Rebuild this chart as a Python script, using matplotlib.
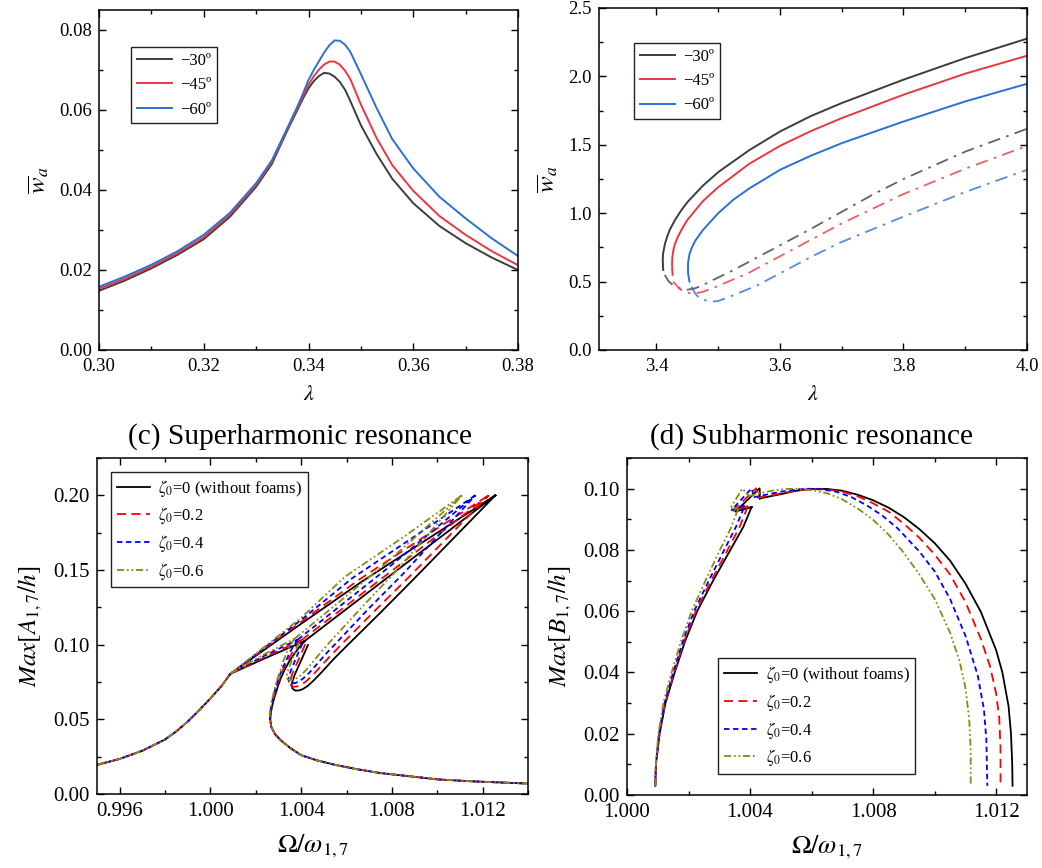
import numpy as np
import matplotlib.pyplot as plt
from matplotlib.ticker import MultipleLocator, FormatStrFormatter

plt.rcParams['font.family'] = 'Liberation Serif'
plt.rcParams['mathtext.fontset'] = 'stix'

nan = np.nan

# ---------------- (a) primary resonance ----------------
a_lam = [0.300, 0.305, 0.310, 0.315, 0.320, 0.325, 0.330, 0.333, 0.336, 0.338, 0.339,
         0.340, 0.341, 0.342, 0.343, 0.344, 0.345, 0.346, 0.347, 0.348, 0.350, 0.353,
         0.356, 0.360, 0.365, 0.370, 0.375, 0.380]
a_w30 = [0.0148, 0.0174, 0.0204, 0.0238, 0.0277, 0.0333, 0.0408, 0.0465, 0.0550, 0.0603, 0.0630,
         0.0654, 0.0672, 0.0685, 0.0693, 0.0691, 0.0683, 0.0670, 0.0650, 0.0622, 0.0562, 0.0490,
         0.0428, 0.0367, 0.0310, 0.0267, 0.0231, 0.0200]
a_w45 = [0.0153, 0.0179, 0.0208, 0.0242, 0.0282, 0.0338, 0.0413, 0.0470, 0.0553, 0.0607, 0.0636,
         0.0663, 0.0684, 0.0701, 0.0714, 0.0721, 0.0721, 0.0713, 0.0698, 0.0677, 0.0614, 0.0530,
         0.0462, 0.0398, 0.0335, 0.0288, 0.0247, 0.0212]
a_w60 = [0.0158, 0.0184, 0.0213, 0.0247, 0.0288, 0.0343, 0.0417, 0.0474, 0.0556, 0.0612, 0.0643,
         0.0675, 0.0700, 0.0722, 0.0744, 0.0762, 0.0774, 0.0773, 0.0763, 0.0745, 0.0690, 0.0605,
         0.0527, 0.0454, 0.0383, 0.0329, 0.0279, 0.0235]

# ---------------- (b) stable (solid) and unstable (dash-dot) branches ----------------
b30_sx = [3.4110, 3.4105, 3.4103, 3.4106, 3.4118, 3.4140, 3.4175, 3.4215, 3.430, 3.440, 3.450,
          3.475, 3.500, 3.550, 3.600, 3.650, 3.700, 3.800, 3.900, 4.000]
b30_sy = [0.585, 0.620, 0.660, 0.700, 0.730, 0.780, 0.830, 0.878, 0.950, 1.020, 1.080,
          1.200, 1.300, 1.460, 1.597, 1.710, 1.805, 1.976, 2.134, 2.276]
b45_sx = [3.4262, 3.4256, 3.4254, 3.4258, 3.4275, 3.4297, 3.4340, 3.4405, 3.450, 3.475, 3.500,
          3.550, 3.600, 3.650, 3.700, 3.800, 3.900, 4.000]
b45_sy = [0.550, 0.590, 0.630, 0.680, 0.730, 0.770, 0.820, 0.878, 0.950, 1.087, 1.190,
          1.360, 1.492, 1.600, 1.695, 1.866, 2.020, 2.151]
b60_sx = [3.4535, 3.4515, 3.4510, 3.4515, 3.4535, 3.4570, 3.4630, 3.4755, 3.500, 3.525, 3.550,
          3.600, 3.650, 3.700, 3.800, 3.900, 4.000]
b60_sy = [0.500, 0.550, 0.600, 0.650, 0.700, 0.745, 0.800, 0.878, 1.000, 1.100, 1.180,
          1.317, 1.420, 1.512, 1.670, 1.817, 1.946]

b30_ux = [3.4135, 3.420, 3.427, 3.437, 3.449, 3.462, 3.4755, 3.500, 3.525, 3.550, 3.600,
          3.650, 3.700, 3.750, 3.800, 3.900, 4.000]
b30_uy = [0.549, 0.500, 0.475, 0.452, 0.440, 0.450, 0.475, 0.530, 0.585, 0.645, 0.765,
          0.885, 1.010, 1.135, 1.250, 1.450, 1.617]
b45_ux = [3.427, 3.435, 3.443, 3.459, 3.475, 3.497, 3.550, 3.600, 3.650, 3.700, 3.800, 3.900, 4.000]
b45_uy = [0.500, 0.460, 0.427, 0.410, 0.425, 0.463, 0.565, 0.685, 0.805, 0.925, 1.140, 1.325, 1.492]
b60_ux = [3.457, 3.463, 3.470, 3.486, 3.500, 3.519, 3.562, 3.600, 3.650, 3.700, 3.800, 3.900, 4.000]
b60_uy = [0.463, 0.410, 0.378, 0.353, 0.358, 0.390, 0.470, 0.560, 0.680, 0.790, 0.975, 1.155, 1.317]

# ---------------- (c) superharmonic resonance ----------------
c_rise_x = [0.995, 0.996, 0.997, 0.998, 0.9985, 0.999, 0.9995, 1.0000, 1.0005, 1.00088]
c_rise_y = [0.0195, 0.0235, 0.0290, 0.0365, 0.0420, 0.0485, 0.0560, 0.0640, 0.0725, 0.0805]
c_tail_x = [1.00268, 1.00285, 1.0031, 1.0035, 1.0040, 1.0047, 1.0055, 1.0065, 1.0075, 1.0090,
            1.0100, 1.0115, 1.0140]
c_tail_y = [0.045, 0.040, 0.036, 0.031, 0.026, 0.0225, 0.0195, 0.0165, 0.0140, 0.0115,
            0.0098, 0.0085, 0.0070]

# branches separated by nan: upper line, kink->junction, fold, middle line, loop
c0_x = [1.00088, 1.0040, 1.0067, 1.0096, 1.01256, nan,
        1.00088, 1.00250, 1.00416, nan,
        1.00416, 1.00390, 1.00372, 1.00348, 1.00327, 1.00310, 1.00297, 1.00285, 1.00275, 1.00267, 1.00264, 1.00268, nan,
        1.00416, 1.0085, 1.01256, nan,
        1.00430, 1.00401, 1.00371, 1.00357, 1.00362, 1.00375, 1.00392, 1.00408, 1.00430, 1.00455, 1.00490, 1.00541,
        1.0060, 1.0075, 1.0090, 1.01256]
c0_y = [0.0805, 0.114, 0.1425, 0.171, 0.200, nan,
        0.0805, 0.0915, 0.1025, nan,
        0.1025, 0.098, 0.0943, 0.089, 0.0831, 0.0775, 0.0719, 0.066, 0.0608, 0.055, 0.050, 0.045, nan,
        0.1025, 0.153, 0.200, nan,
        0.0998, 0.0898, 0.0797, 0.0730, 0.0705, 0.0692, 0.0694, 0.0703, 0.0725, 0.0760, 0.0815, 0.0900,
        0.0990, 0.1215, 0.1445, 0.200]

c2_x = [1.00088, 1.0040, 1.00655, 1.0094, 1.01227, nan,
        1.00088, 1.00245, 1.00401, nan,
        1.00401, 1.00378, 1.00360, 1.00340, 1.00320, 1.00305, 1.00292, 1.00281, 1.00272, 1.00265, 1.00263, 1.00268, nan,
        1.00401, 1.0083, 1.01227, nan,
        1.00418, 1.00390, 1.00362, 1.00350, 1.00355, 1.00366, 1.00382, 1.00398, 1.00420, 1.00445, 1.00478, 1.00527,
        1.0058, 1.0073, 1.0088, 1.01227]
c2_y = [0.0805, 0.1153, 0.1435, 0.172, 0.200, nan,
        0.0805, 0.0920, 0.1030, nan,
        0.1030, 0.0985, 0.0945, 0.089, 0.0831, 0.0775, 0.0719, 0.066, 0.0608, 0.055, 0.050, 0.045, nan,
        0.1030, 0.153, 0.200, nan,
        0.1003, 0.0905, 0.0810, 0.0750, 0.0728, 0.0718, 0.0720, 0.0730, 0.0752, 0.0787, 0.0840, 0.0922,
        0.1005, 0.1235, 0.1460, 0.200]

c4_x = [1.00088, 1.0040, 1.00625, 1.0090, 1.01168, nan,
        1.00088, 1.00237, 1.00386, nan,
        1.00386, 1.00366, 1.00350, 1.00333, 1.00315, 1.00300, 1.00289, 1.00279, 1.00270, 1.00264, 1.00262, 1.00268, nan,
        1.00386, 1.0080, 1.01168, nan,
        1.00405, 1.00378, 1.00354, 1.00343, 1.00347, 1.00358, 1.00374, 1.00390, 1.00410, 1.00435, 1.00465, 1.00510,
        1.0056, 1.0070, 1.0085, 1.01168]
c4_y = [0.0805, 0.1166, 0.1445, 0.1725, 0.200, nan,
        0.0805, 0.0925, 0.1035, nan,
        0.1035, 0.0990, 0.0950, 0.089, 0.0831, 0.0775, 0.0719, 0.066, 0.0608, 0.055, 0.050, 0.045, nan,
        0.1035, 0.1535, 0.200, nan,
        0.1008, 0.0912, 0.0825, 0.0770, 0.0750, 0.0741, 0.0743, 0.0753, 0.0775, 0.0810, 0.0862, 0.0940,
        0.1020, 0.1245, 0.1475, 0.200]

c6_x = [1.00088, 1.0040, 1.00593, 1.0086, 1.01109, nan,
        1.00088, 1.00230, 1.00371, nan,
        1.00371, 1.00352, 1.00338, 1.00324, 1.00309, 1.00296, 1.00285, 1.00276, 1.00268, 1.00262, 1.00261, 1.00268, nan,
        1.00371, 1.0077, 1.01109, nan,
        1.00390, 1.00365, 1.00345, 1.00335, 1.00338, 1.00348, 1.00364, 1.00380, 1.00400, 1.00423, 1.00452, 1.00493,
        1.0054, 1.0067, 1.0082, 1.01109]
c6_y = [0.0805, 0.1180, 0.1455, 0.173, 0.200, nan,
        0.0805, 0.0930, 0.1040, nan,
        0.1040, 0.0995, 0.0955, 0.090, 0.0831, 0.0775, 0.0719, 0.066, 0.0608, 0.055, 0.050, 0.045, nan,
        0.1040, 0.154, 0.200, nan,
        0.1015, 0.0920, 0.0840, 0.0790, 0.0772, 0.0763, 0.0765, 0.0775, 0.0797, 0.0832, 0.0885, 0.0960,
        0.1040, 0.1255, 0.1495, 0.200]

# ---------------- (d) subharmonic resonance ----------------
# rise, nan, swallowtail, nan, arc
d0_x = [1.00092, 1.00094, 1.00106, 1.00125, 1.00155, 1.00188, 1.00228, 1.00280, 1.00336, 1.00378, 1.00405, nan,
        1.00405, 1.00352, 1.00431, 1.00432, nan,
        1.00432, 1.0047, 1.0050, 1.0055, 1.0060, 1.0065, 1.0070, 1.0075, 1.0080, 1.0085, 1.0090, 1.0095,
        1.0100, 1.0105, 1.0110, 1.0115, 1.0120, 1.0122, 1.0124, 1.01248, 1.01252, 1.01253]
d0_y = [0.003, 0.010, 0.020, 0.030, 0.040, 0.050, 0.060, 0.070, 0.080, 0.0875, 0.0940, nan,
        0.0940, 0.0925, 0.1001, 0.0968, nan,
        0.0968, 0.0976, 0.0982, 0.0993, 0.0999, 0.0999, 0.0993, 0.0980, 0.0962, 0.0938, 0.0907, 0.0868,
        0.0822, 0.0765, 0.0690, 0.0598, 0.0472, 0.0400, 0.0290, 0.0200, 0.0100, 0.0030]

d2_x = [1.00092, 1.00094, 1.00105, 1.00124, 1.00153, 1.00185, 1.00224, 1.00274, 1.00327, 1.00366, 1.00393, nan,
        1.00393, 1.00345, 1.00420, 1.00423, nan,
        1.00423, 1.0047, 1.0050, 1.0055, 1.0060, 1.0065, 1.0070, 1.0075, 1.0080, 1.0085, 1.0090, 1.0095,
        1.0100, 1.0105, 1.0110, 1.0115, 1.0118, 1.0120, 1.01210, 1.01214, 1.01214]
d2_y = [0.003, 0.010, 0.020, 0.030, 0.040, 0.050, 0.060, 0.070, 0.080, 0.0875, 0.0943, nan,
        0.0943, 0.0928, 0.1001, 0.0972, nan,
        0.0970, 0.0978, 0.0984, 0.0994, 0.0999, 0.0997, 0.0990, 0.0975, 0.0952, 0.0925, 0.0885, 0.0840,
        0.0785, 0.0720, 0.0630, 0.0510, 0.0420, 0.0330, 0.0250, 0.0150, 0.0030]

d4_x = [1.00092, 1.00094, 1.00104, 1.00122, 1.00150, 1.00181, 1.00218, 1.00266, 1.00316, 1.00354, 1.00383, nan,
        1.00383, 1.00340, 1.00405, 1.00412, nan,
        1.00412, 1.0045, 1.0050, 1.0055, 1.0058, 1.0063, 1.0068, 1.0073, 1.0078, 1.0083, 1.0088, 1.0095,
        1.0100, 1.0105, 1.0110, 1.0114, 1.0116, 1.01168, 1.01171]
d4_y = [0.003, 0.010, 0.020, 0.030, 0.040, 0.050, 0.060, 0.070, 0.080, 0.0875, 0.0945, nan,
        0.0945, 0.0930, 0.1001, 0.0975, nan,
        0.0972, 0.0980, 0.0990, 0.0997, 0.1000, 0.0998, 0.0990, 0.0972, 0.0945, 0.0912, 0.0870, 0.0795,
        0.0730, 0.0640, 0.0520, 0.0390, 0.0280, 0.0180, 0.0030]

d6_x = [1.00092, 1.00094, 1.00102, 1.00118, 1.00145, 1.00175, 1.00210, 1.00255, 1.00302, 1.00337, 1.00362, nan,
        1.00362, 1.00335, 1.00375, 1.00395, nan,
        1.00395, 1.0043, 1.0048, 1.0052, 1.0055, 1.0060, 1.0065, 1.0070, 1.0075, 1.0080, 1.0085, 1.0090,
        1.0095, 1.0100, 1.0105, 1.0108, 1.0110, 1.01112, 1.01117, 1.01117]
d6_y = [0.003, 0.010, 0.020, 0.030, 0.040, 0.050, 0.060, 0.070, 0.080, 0.0870, 0.0935, nan,
        0.0935, 0.0935, 0.1000, 0.0978, nan,
        0.0975, 0.0985, 0.0995, 0.0999, 0.1000, 0.0995, 0.0985, 0.0965, 0.0935, 0.0898, 0.0850, 0.0790,
        0.0720, 0.0640, 0.0530, 0.0440, 0.0350, 0.0250, 0.0150, 0.0030]

ang_labels = ['\u221230\u00ba', '\u221245\u00ba', '\u221260\u00ba']
ang_colors = ['#3d3d3d', '#e8383d', '#2a70d6']
zeta_labels = [r'$\zeta_0$=0 (without foams)', r'$\zeta_0$=0.2', r'$\zeta_0$=0.4', r'$\zeta_0$=0.6']
zeta_colors = ['black', '#ff0000', '#0000ff', '#8a8a10']
zeta_styles = ['-', (0, (5, 3)), (0, (3, 2)), (0, (4, 1.5, 1, 1.5, 1, 1.5))]

W, H = 1042, 868
fig = plt.figure(figsize=(W / 100, H / 100), dpi=100)


def add_ax(l, t, r, b):
    return fig.add_axes([l / W, 1 - b / H, (r - l) / W, (b - t) / H])


def style(ax, size):
    ax.tick_params(which='both', direction='in', top=True, right=True, labelsize=size)
    ax.tick_params(axis='x', pad=6)
    ax.tick_params(axis='y', pad=5)
    ax.tick_params(which='major', length=5, width=1)
    ax.tick_params(which='minor', length=3, width=1)
    for s in ax.spines.values():
        s.set_linewidth(1.1)


def legend(ax, loc, anchor, hl, spacing):
    lg = ax.legend(loc=loc, bbox_to_anchor=anchor, borderaxespad=0, fontsize=12,
                   fancybox=False, edgecolor='#222222', framealpha=1, handlelength=hl,
                   handletextpad=0.5, labelspacing=spacing, borderpad=0.35)
    lg.get_frame().set_linewidth(1)


ax_a = add_ax(99, 10, 518, 350)
ax_b = add_ax(599, 8, 1027, 350)
ax_c = add_ax(97, 458, 528, 794)
ax_d = add_ax(627, 458, 1027, 795)

# (a)
for w, c, lab in zip([a_w30, a_w45, a_w60], ang_colors, ang_labels):
    ax_a.plot(a_lam, w, color=c, lw=1.4, label=lab)
ax_a.set_xlim(0.30, 0.38)
ax_a.set_ylim(0, 0.085)
ax_a.xaxis.set_major_locator(MultipleLocator(0.02))
ax_a.xaxis.set_minor_locator(MultipleLocator(0.01))
ax_a.yaxis.set_major_locator(MultipleLocator(0.02))
ax_a.yaxis.set_minor_locator(MultipleLocator(0.01))
ax_a.xaxis.set_major_formatter(FormatStrFormatter('%.2f'))
ax_a.yaxis.set_major_formatter(FormatStrFormatter('%.2f'))
style(ax_a, 13.5)
ax_a.set_xlabel(r'$\lambda$', fontsize=16, labelpad=8)
ax_a.set_ylabel(r'$\overline{w}_a$', fontsize=18, labelpad=6)
legend(ax_a, 'upper left', (0.076, 0.891), 2.1, 0.5)

# (b)
for sx, sy, ux, uy, c, lab in zip([b30_sx, b45_sx, b60_sx], [b30_sy, b45_sy, b60_sy],
                                  [b30_ux, b45_ux, b60_ux], [b30_uy, b45_uy, b60_uy],
                                  ang_colors, ang_labels):
    ax_b.plot(sx, sy, color=c, lw=1.4, label=lab)
    ax_b.plot(ux, uy, color=c, lw=1.3, alpha=0.8, ls=(0, (7, 3.5, 1.5, 3.5)))
ax_b.set_xlim(3.307, 4.0)
ax_b.set_ylim(0, 2.5)
ax_b.xaxis.set_major_locator(MultipleLocator(0.2))
ax_b.xaxis.set_minor_locator(MultipleLocator(0.1))
ax_b.yaxis.set_major_locator(MultipleLocator(0.5))
ax_b.yaxis.set_minor_locator(MultipleLocator(0.25))
ax_b.xaxis.set_major_formatter(FormatStrFormatter('%.1f'))
ax_b.yaxis.set_major_formatter(FormatStrFormatter('%.1f'))
style(ax_b, 13.5)
ax_b.set_xlabel(r'$\lambda$', fontsize=16, labelpad=8)
ax_b.set_ylabel(r'$\overline{w}_a$', fontsize=18, labelpad=6)
legend(ax_b, 'upper left', (0.082, 0.898), 2.1, 0.5)

# (c)
for cx, cy, c, ls, lab in zip([c0_x, c2_x, c4_x, c6_x], [c0_y, c2_y, c4_y, c6_y],
                              zeta_colors, zeta_styles, zeta_labels):
    bx = c_rise_x + [nan] + cx + [nan] + c_tail_x
    by = c_rise_y + [nan] + cy + [nan] + c_tail_y
    ax_c.plot(bx, by, color=c, lw=1.3, ls=ls, label=lab)
ax_c.set_xlim(0.995, 1.014)
ax_c.set_ylim(0, 0.225)
ax_c.xaxis.set_major_locator(MultipleLocator(0.004))
ax_c.xaxis.set_minor_locator(MultipleLocator(0.002))
ax_c.yaxis.set_major_locator(MultipleLocator(0.05))
ax_c.yaxis.set_minor_locator(MultipleLocator(0.025))
ax_c.xaxis.set_major_formatter(FormatStrFormatter('%.3f'))
ax_c.yaxis.set_major_formatter(FormatStrFormatter('%.2f'))
style(ax_c, 15)
ax_c.set_xlabel(r'$\mathit{\Omega}/\omega_{1,7}$', fontsize=19, labelpad=8)
ax_c.set_ylabel(r'$Max[A_{1,7}/h]$', fontsize=18, labelpad=7)
legend(ax_c, 'upper left', (0.032, 0.959), 2.0, 0.4)

# (d)
for dx, dy, c, ls, lab in zip([d0_x, d2_x, d4_x, d6_x], [d0_y, d2_y, d4_y, d6_y],
                              zeta_colors, zeta_styles, zeta_labels):
    ax_d.plot(dx, dy, color=c, lw=1.3, ls=ls, label=lab)
ax_d.set_xlim(1.000, 1.013)
ax_d.set_ylim(0, 0.11)
ax_d.xaxis.set_major_locator(MultipleLocator(0.004))
ax_d.xaxis.set_minor_locator(MultipleLocator(0.002))
ax_d.yaxis.set_major_locator(MultipleLocator(0.02))
ax_d.yaxis.set_minor_locator(MultipleLocator(0.01))
ax_d.xaxis.set_major_formatter(FormatStrFormatter('%.3f'))
ax_d.yaxis.set_major_formatter(FormatStrFormatter('%.2f'))
style(ax_d, 15)
ax_d.set_xlabel(r'$\mathit{\Omega}/\omega_{1,7}$', fontsize=19, labelpad=8)
ax_d.set_ylabel(r'$Max[B_{1,7}/h]$', fontsize=18, labelpad=7)
legend(ax_d, 'lower left', (0.2275, 0.062), 2.0, 0.4)

fig.text(300 / W, 1 - 437 / H, '(c) Superharmonic resonance', ha='center', va='center', fontsize=21.2)
fig.text(811 / W, 1 - 437 / H, '(d) Subharmonic resonance', ha='center', va='center', fontsize=21.2)

fig.savefig('out.png', dpi=100)
